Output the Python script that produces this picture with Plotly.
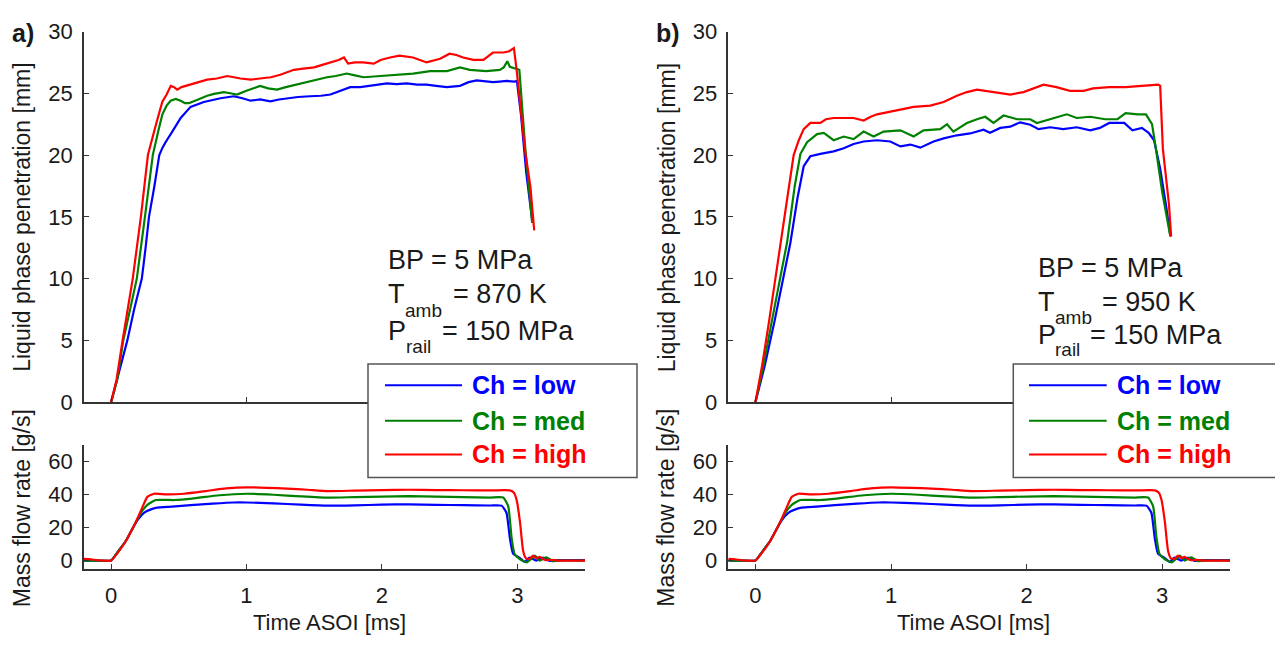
import plotly.graph_objects as go

# ---------------- data ----------------
# Panel a) liquid phase penetration [mm] vs time ASOI [ms]
T_PEN_A_LOW = [0.00, 0.06, 0.12, 0.17, 0.227, 0.255, 0.28, 0.32, 0.356, 0.38, 0.40, 0.452, 0.514, 0.587, 0.685, 0.808,
               0.906, 0.97, 1.03, 1.10, 1.177, 1.24, 1.30, 1.38, 1.47, 1.55, 1.62, 1.69, 1.766, 1.84, 1.913, 2.037,
               2.11, 2.184, 2.26, 2.33, 2.40, 2.48, 2.577, 2.64, 2.70, 2.76, 2.82, 2.87, 2.92, 2.98, 2.997, 3.027,
               3.066, 3.11]
PEN_A_LOW = [0.0, 2.5, 5.0, 7.5, 10.0, 12.5, 15.0, 17.5, 20.0, 20.6, 21.0, 21.9, 23.0, 23.9, 24.3, 24.6,
             24.76, 24.6, 24.4, 24.5, 24.35, 24.5, 24.6, 24.7, 24.76, 24.8, 24.9, 25.2, 25.5, 25.5, 25.6, 25.8,
             25.75, 25.8, 25.7, 25.7, 25.6, 25.5, 25.6, 25.9, 26.05, 26.0, 25.9, 25.95, 26.0, 25.95, 26.0, 23.3,
             18.6, 14.7]

T_PEN_A_MED = [0.00, 0.045, 0.09, 0.14, 0.19, 0.25, 0.308, 0.35, 0.379, 0.41, 0.44, 0.477, 0.514, 0.545, 0.575,
               0.62, 0.661, 0.71, 0.76, 0.833, 0.88, 0.93, 1.00, 1.05, 1.10, 1.16, 1.226, 1.29, 1.349, 1.42, 1.496,
               1.595, 1.66, 1.74, 1.80, 1.865, 1.99, 2.135, 2.23, 2.356, 2.48, 2.577, 2.65, 2.77, 2.87, 2.90, 2.926,
               2.945, 2.995, 3.015, 3.06, 3.11]
PEN_A_MED = [0.0, 1.8, 5.0, 7.5, 10.0, 15.0, 20.0, 22.0, 23.3, 24.0, 24.4, 24.55, 24.4, 24.2, 24.2,
             24.4, 24.6, 24.8, 24.95, 25.1, 25.0, 24.9, 25.2, 25.4, 25.6, 25.4, 25.3, 25.5, 25.65, 25.8, 26.0,
             26.3, 26.4, 26.6, 26.45, 26.3, 26.4, 26.5, 26.6, 26.8, 26.8, 27.1, 26.9, 26.8, 26.9, 27.1, 27.6,
             27.15, 27.0, 26.9, 20.4, 14.5]

T_PEN_A_HIGH = [0.00, 0.04, 0.085, 0.125, 0.160, 0.22, 0.272, 0.332, 0.378, 0.41, 0.441, 0.465, 0.489, 0.52, 0.587,
                0.65, 0.71, 0.78, 0.858, 0.956, 1.03, 1.10, 1.18, 1.25, 1.35, 1.42, 1.50, 1.56, 1.62, 1.68, 1.72,
                1.75, 1.80, 1.86, 1.94, 1.99, 2.06, 2.13, 2.23, 2.33, 2.43, 2.50, 2.55, 2.60, 2.675, 2.75, 2.82,
                2.90, 2.94, 2.975, 2.995, 3.057, 3.097, 3.125]
PEN_A_HIGH = [0.0, 1.8, 5.0, 7.5, 10.0, 15.0, 20.0, 22.5, 24.3, 24.9, 25.6, 25.5, 25.3, 25.5, 25.7,
              25.9, 26.1, 26.2, 26.4, 26.2, 26.1, 26.2, 26.3, 26.5, 26.9, 27.0, 27.1, 27.3, 27.5, 27.7, 27.9,
              27.4, 27.5, 27.5, 27.4, 27.7, 27.9, 28.05, 27.9, 27.5, 27.8, 28.2, 28.1, 27.9, 27.7, 27.7, 28.3,
              28.3, 28.4, 28.65, 26.9, 20.4, 17.4, 13.9]

# Panel b) liquid phase penetration [mm]
T_PEN_B_LOW = [0.00, 0.07, 0.14, 0.258, 0.31, 0.356, 0.405, 0.479, 0.577, 0.651, 0.724, 0.798, 0.897, 0.995, 1.069,
               1.143, 1.216, 1.314, 1.388, 1.486, 1.584, 1.682, 1.73, 1.806, 1.879, 1.953, 2.027, 2.088, 2.174,
               2.27, 2.37, 2.469, 2.54, 2.61, 2.72, 2.78, 2.85, 2.90, 2.94, 2.985, 3.03, 3.06]
PEN_B_LOW = [0.0, 3.0, 6.5, 12.9, 16.5, 19.1, 19.9, 20.1, 20.3, 20.55, 20.9, 21.1, 21.2, 21.1, 20.7,
             20.85, 20.6, 21.1, 21.35, 21.6, 21.75, 22.05, 21.8, 22.2, 22.3, 22.65, 22.45, 22.1, 22.25,
             22.1, 22.25, 22.0, 22.2, 22.6, 22.6, 22.0, 22.2, 21.8, 21.2, 18.9, 15.8, 13.5]

T_PEN_B_MED = [0.00, 0.06, 0.12, 0.233, 0.29, 0.332, 0.381, 0.455, 0.504, 0.54, 0.577, 0.651, 0.724, 0.798, 0.872,
               0.945, 1.069, 1.167, 1.24, 1.363, 1.413, 1.46, 1.56, 1.634, 1.695, 1.756, 1.83, 1.93, 2.027, 2.076,
               2.17, 2.297, 2.37, 2.469, 2.58, 2.67, 2.73, 2.82, 2.88, 2.925, 2.955, 3.00, 3.06]
PEN_B_MED = [0.0, 3.0, 6.5, 12.9, 17.5, 20.1, 21.05, 21.7, 21.8, 21.5, 21.2, 21.5, 21.3, 21.9, 21.5,
             21.9, 22.0, 21.5, 22.0, 22.1, 22.5, 21.9, 22.6, 22.9, 23.1, 22.6, 23.2, 22.9, 22.9, 22.6,
             22.9, 23.3, 23.0, 23.1, 22.9, 22.9, 23.4, 23.3, 23.3, 22.5, 20.4, 17.0, 13.4]

T_PEN_B_HIGH = [0.00, 0.05, 0.10, 0.184, 0.24, 0.282, 0.32, 0.356, 0.405, 0.479, 0.52, 0.577, 0.651, 0.724, 0.798,
                0.85, 0.897, 0.995, 1.07, 1.167, 1.29, 1.388, 1.486, 1.56, 1.634, 1.73, 1.80, 1.88, 1.977, 2.05,
                2.125, 2.22, 2.32, 2.42, 2.49, 2.61, 2.73, 2.85, 2.97, 2.985, 3.005, 3.03, 3.05, 3.066]
PEN_B_HIGH = [0.0, 3.0, 6.5, 12.9, 17.0, 20.0, 21.2, 22.1, 22.6, 22.6, 22.9, 23.0, 23.0, 23.0, 22.8,
              23.1, 23.3, 23.5, 23.7, 23.9, 24.0, 24.3, 24.8, 25.1, 25.3, 25.15, 25.0, 24.9, 25.1, 25.4,
              25.7, 25.5, 25.2, 25.2, 25.4, 25.5, 25.5, 25.6, 25.7, 25.6, 20.5, 18.0, 16.0, 13.4]

# Mass flow rate [g/s] (same injector in both panels)
T_FLOW_LOW = [-0.20, -0.10, 0.00, 0.047, 0.108, 0.158, 0.195, 0.243, 0.29, 0.34, 0.45, 0.587, 0.75, 0.906, 1.00,
              1.20, 1.40, 1.60, 1.80, 2.00, 2.20, 2.40, 2.60, 2.80, 2.884, 2.92, 2.945, 2.97, 3.02, 3.056, 3.09,
              3.14, 3.19, 3.24, 3.30, 3.50]
FLOW_LOW = [0.0, 0.0, 0.0, 5.0, 11.7, 19.3, 24.5, 28.9, 30.8, 32.0, 32.6, 33.5, 34.4, 35.1, 35.1,
            34.6, 33.8, 33.2, 33.4, 33.8, 34.0, 33.7, 33.5, 33.3, 33.2, 28.9, 13.6, 4.0, 1.5, -0.8, 1.8,
            0.0, 1.8, -0.2, 0.3, 0.3]

T_FLOW_MED = [-0.20, -0.10, 0.00, 0.047, 0.108, 0.158, 0.195, 0.23, 0.268, 0.33, 0.47, 0.60, 0.80, 1.00, 1.20,
              1.40, 1.60, 1.80, 2.00, 2.20, 2.40, 2.60, 2.80, 2.896, 2.933, 2.958, 2.98, 3.02, 3.07, 3.10, 3.13,
              3.166, 3.19, 3.215, 3.26, 3.30, 3.50]
FLOW_MED = [0.0, 0.0, 0.0, 5.0, 11.7, 19.3, 25.1, 30.0, 33.7, 36.6, 36.6, 37.5, 39.5, 40.4, 39.8,
            38.8, 38.0, 38.4, 38.7, 38.9, 38.6, 38.3, 38.1, 38.1, 32.8, 13.6, 4.0, 0.8, -1.1, 0.8, 3.0,
            0.0, 1.0, 2.0, -0.3, 0.0, 0.0]

T_FLOW_HIGH = [-0.20, -0.15, -0.10, -0.05, 0.00, 0.047, 0.108, 0.158, 0.195, 0.23, 0.268, 0.317, 0.41, 0.54, 0.70,
               0.85, 1.00, 1.15, 1.30, 1.45, 1.60, 1.80, 2.00, 2.20, 2.40, 2.60, 2.81, 2.945, 2.975, 2.995, 3.02,
               3.043, 3.063, 3.09, 3.117, 3.14, 3.166, 3.19, 3.215, 3.25, 3.30, 3.40, 3.50]
FLOW_HIGH = [1.0, 0.8, 0.2, 0.0, 0.0, 4.5, 11.7, 19.3, 25.5, 32.0, 38.5, 40.4, 40.0, 40.4, 42.0,
             43.6, 44.3, 44.0, 43.5, 42.8, 42.0, 42.3, 42.6, 42.8, 42.6, 42.5, 42.4, 42.4, 41.0, 36.6, 23.2,
             5.9, 1.4, 1.0, 3.0, 1.5, 2.2, 1.0, 0.2, 0.5, 0.0, 0.0, 0.0]

SERIES_NAMES = ["Ch = low", "Ch = med", "Ch = high"]
SERIES_COLORS = ["#0000FF", "#008000", "#FF0000"]

PEN_Y_TICKS = [0, 5, 10, 15, 20, 25, 30]
FLOW_Y_TICKS = [0, 20, 40, 60]
TIME_TICKS = [0, 1, 2, 3]

PANEL_LABELS = ["a)", "b)"]
T_AMB_TEXT = ["= 870 K", "= 950 K"]

# ---------------- layout helpers ----------------
W, H = 1275, 653
FONT = "Liberation Sans, Arial, Helvetica, sans-serif"
TXT = "#1a1a1a"
AX = "#333333"


def px(x):
    return x / W


def py(y):
    return 1 - y / H


fig = go.Figure()

pen_a = [(T_PEN_A_LOW, PEN_A_LOW), (T_PEN_A_MED, PEN_A_MED), (T_PEN_A_HIGH, PEN_A_HIGH)]
pen_b = [(T_PEN_B_LOW, PEN_B_LOW), (T_PEN_B_MED, PEN_B_MED), (T_PEN_B_HIGH, PEN_B_HIGH)]
flow = [(T_FLOW_LOW, FLOW_LOW), (T_FLOW_MED, FLOW_MED), (T_FLOW_HIGH, FLOW_HIGH)]

LW = 2.2
# axes: 1 = a top, 2 = a bottom, 3 = b top, 4 = b bottom
for k, (tt, vv) in enumerate(pen_a):
    fig.add_trace(go.Scatter(x=tt, y=vv, mode="lines", name=SERIES_NAMES[k], showlegend=False,
                             line=dict(color=SERIES_COLORS[k], width=LW), xaxis="x", yaxis="y"))
for k, (tt, vv) in enumerate(flow):
    fig.add_trace(go.Scatter(x=tt, y=vv, mode="lines", name=SERIES_NAMES[k], showlegend=False,
                             line=dict(color=SERIES_COLORS[k], width=LW, shape="spline", smoothing=0.5),
                             xaxis="x2", yaxis="y2"))
for k, (tt, vv) in enumerate(pen_b):
    fig.add_trace(go.Scatter(x=tt, y=vv, mode="lines", name=SERIES_NAMES[k], showlegend=False,
                             line=dict(color=SERIES_COLORS[k], width=LW), xaxis="x3", yaxis="y3"))
for k, (tt, vv) in enumerate(flow):
    fig.add_trace(go.Scatter(x=tt, y=vv, mode="lines", name=SERIES_NAMES[k], showlegend=False,
                             line=dict(color=SERIES_COLORS[k], width=LW, shape="spline", smoothing=0.5),
                             xaxis="x4", yaxis="y4"))

XDOM = [[px(84), px(585)], [px(728.3), px(1230)]]
YTOP = [py(405.7), py(20.3)]
YBOT = [py(579), py(450)]

common = dict(showline=True, linecolor=AX, linewidth=1.5, ticks="inside", ticklen=5, tickwidth=1.2,
              tickcolor=AX, showgrid=False, zeroline=False, tickfont=dict(family=FONT, size=22, color=TXT))

layout_axes = {}
for p in range(2):
    i_top = 2 * p + 1
    i_bot = 2 * p + 2
    sx_top = "" if i_top == 1 else str(i_top)
    sx_bot = str(i_bot)
    layout_axes["xaxis" + sx_top] = dict(domain=XDOM[p], anchor="y" + sx_top, range=[-0.2, 3.5],
                                         tickvals=TIME_TICKS, showticklabels=False, **common)
    layout_axes["yaxis" + sx_top] = dict(domain=YTOP, anchor="x" + sx_top, range=[0, 30],
                                         tickvals=PEN_Y_TICKS, ticklabelstandoff=5, **common)
    layout_axes["xaxis" + sx_bot] = dict(domain=XDOM[p], anchor="y" + sx_bot, range=[-0.2, 3.5],
                                         tickvals=TIME_TICKS, ticklabelstandoff=6, **common)
    layout_axes["yaxis" + sx_bot] = dict(domain=YBOT, anchor="x" + sx_bot, range=[-5, 70],
                                         tickvals=FLOW_Y_TICKS, ticklabelstandoff=5, **common)

annotations = []
shapes = []


def text(x, y, s, size, color=TXT, bold=False, xanchor="left", angle=0):
    annotations.append(dict(x=px(x), y=py(y), xref="paper", yref="paper", text=("<b>%s</b>" % s) if bold else s,
                            showarrow=False, xanchor=xanchor, yanchor="middle", textangle=angle,
                            font=dict(family=FONT, size=size, color=color)))


DX = 644.5  # horizontal offset of panel b
for p in range(2):
    off = DX * p
    # panel label
    text(23 + off, 22, PANEL_LABELS[p], 25, bold=True, xanchor="center")
    # axis titles
    text(22 + off, 214, "Liquid phase penetration [mm]", 23, xanchor="center", angle=-90)
    text(22 + off, 516, "Mass flow rate [g/s]", 23, xanchor="center", angle=-90)
    text(329 + off, 635, "Time ASOI [ms]", 22, xanchor="center")

# condition texts
COND = [dict(x=386, bp=257.6, t=293.6, tsub=310.7, tsubx=402.7, teq=450.7, p=331.9, psub=347.4, psubx=404, peq=440),
        dict(x=1036, bp=265.9, t=301.9, tsub=317.4, tsubx=1052.7, teq=1100, p=335.9, psub=351.4, psubx=1053,
             peq=1088.3)]
for p, c in enumerate(COND):
    text(c["x"], c["bp"], "BP = 5 MPa", 27)
    text(c["x"], c["t"], "T", 27)
    text(c["tsubx"], c["tsub"], "amb", 19)
    text(c["teq"], c["t"], T_AMB_TEXT[p], 27)
    text(c["x"], c["p"], "P", 27)
    text(c["psubx"], c["psub"], "rail", 19)
    text(c["peq"], c["p"], "= 150 MPa", 27)

# legends (drawn boxes)
LEG = [dict(x0=368, x1=637, line0=385, line1=462, tx=470), dict(x0=1013.3, x1=1290, line0=1029, line1=1106.7, tx=1115)]
ROWS = [388, 425, 460]
for L in LEG:
    shapes.append(dict(type="rect", xref="paper", yref="paper", x0=px(L["x0"]), x1=px(L["x1"]),
                       y0=py(484), y1=py(366), line=dict(color="#555555", width=1.5), fillcolor="white",
                       layer="above"))
    for k in range(3):
        shapes.append(dict(type="line", xref="paper", yref="paper", x0=px(L["line0"]), x1=px(L["line1"]),
                           y0=py(ROWS[k]), y1=py(ROWS[k]), line=dict(color=SERIES_COLORS[k], width=2),
                           layer="above"))
        text(L["tx"], ROWS[k], SERIES_NAMES[k], 25, color=SERIES_COLORS[k], bold=True)

fig.update_layout(width=W, height=H, margin=dict(l=0, r=0, t=0, b=0), paper_bgcolor="white",
                  plot_bgcolor="white", showlegend=False, annotations=annotations, shapes=shapes,
                  font=dict(family=FONT, color=TXT), **layout_axes)

fig.write_html("out.html")
